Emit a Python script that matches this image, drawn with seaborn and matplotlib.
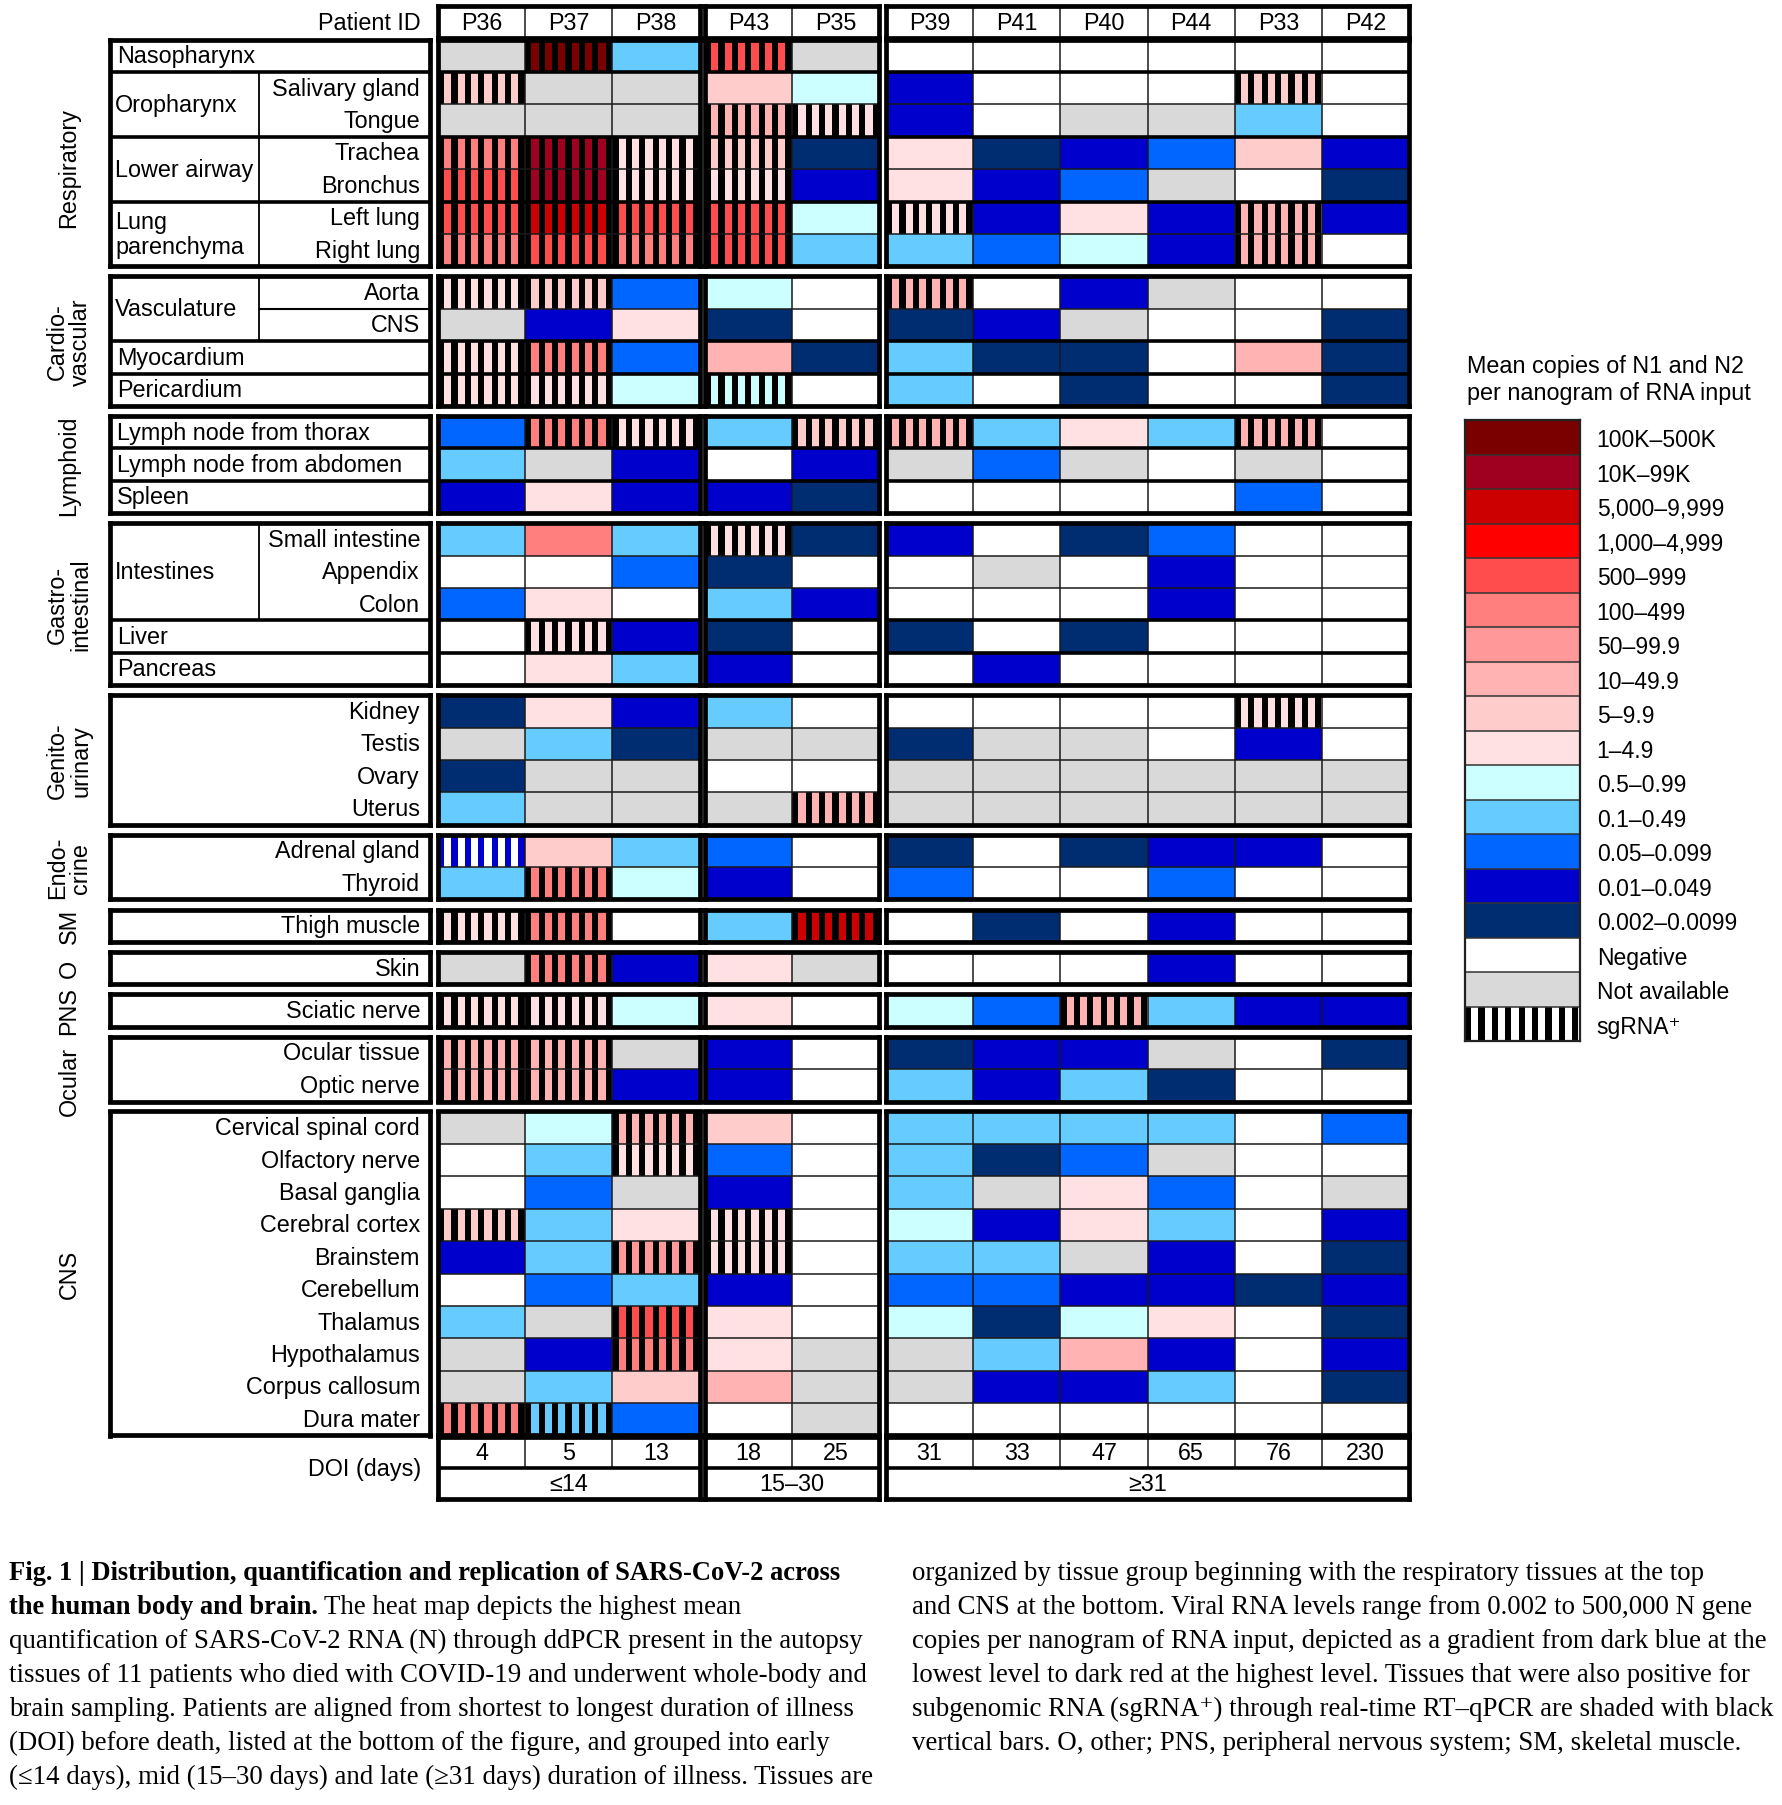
import numpy as np
import matplotlib
matplotlib.use('Agg')
import matplotlib.pyplot as plt
from matplotlib.colors import ListedColormap
from matplotlib.patches import Rectangle
import seaborn as sns

OUTPUT_PNG_FILE = 'out.png'

PATIENTS = ['P36', 'P37', 'P38', 'P43', 'P35', 'P39', 'P41', 'P40', 'P44', 'P33', 'P42']
DOI_DAYS = [4, 5, 13, 18, 25, 31, 33, 47, 65, 76, 230]
DOI_GROUPS = ['≤14', '15–30', '≥31']
GROUP_SIZES = [3, 2, 6]

LEVEL_LABELS = ['100K–500K', '10K–99K', '5,000–9,999', '1,000–4,999', '500–999',
                '100–499', '50–99.9', '10–49.9', '5–9.9', '1–4.9', '0.5–0.99',
                '0.1–0.49', '0.05–0.099', '0.01–0.049', '0.002–0.0099',
                'Negative', 'Not available']
LEVEL_COLORS = ['#7a0000', '#a00020', '#cc0000', '#ff0000', '#ff4d4d', '#ff7f7f',
                '#ff9999', '#ffb3b3', '#ffcccc', '#ffe0e3', '#ccffff', '#66ccff',
                '#0066ff', '#0000cc', '#002d72', '#ffffff', '#d9d9d9']
N, X = 15, 16  # negative, not available

# level index per tissue (rows) and patient (columns, order of PATIENTS)
RESPIRATORY = [
    [X, 0, 11, 4, X, N, N, N, N, N, N],
    [8, X, X, 8, 10, 13, N, N, N, 8, N],
    [X, X, X, 7, 9, 13, N, X, X, 11, N],
    [5, 1, 9, 8, 14, 9, 14, 13, 12, 8, 13],
    [4, 1, 9, 9, 13, 9, 13, 12, X, N, 14],
    [4, 2, 4, 4, 10, 9, 13, 9, 13, 7, 13],
    [5, 4, 5, 4, 11, 11, 12, 10, 13, 7, N],
]
CARDIOVASCULAR = [
    [9, 8, 12, 10, N, 7, N, 13, X, N, N],
    [X, 13, 9, 14, N, 14, 13, X, N, N, 14],
    [9, 5, 12, 7, 14, 11, 14, 14, N, 7, 14],
    [9, 9, 10, 10, N, 11, N, 14, N, N, 14],
]
LYMPHOID = [
    [12, 5, 9, 11, 8, 7, 11, 9, 11, 7, N],
    [11, X, 13, N, 13, X, 12, X, N, X, N],
    [13, 9, 13, 13, 14, N, N, N, N, 12, N],
]
GASTROINTESTINAL = [
    [11, 5, 11, 9, 14, 13, N, 14, 12, N, N],
    [N, N, 12, 14, N, N, X, N, 13, N, N],
    [12, 9, N, 11, 13, N, N, N, 13, N, N],
    [N, 9, 13, 14, N, 14, N, 14, N, N, N],
    [N, 9, 11, 13, N, N, 13, N, N, N, N],
]
GENITOURINARY = [
    [14, 9, 13, 11, N, N, N, N, N, 9, N],
    [X, 11, 14, X, X, 14, X, X, N, 13, N],
    [14, X, X, N, N, X, X, X, X, X, X],
    [11, X, X, X, 7, X, X, X, X, X, X],
]
ENDOCRINE = [
    [13, 8, 11, 12, N, 14, N, 14, 13, 13, N],
    [11, 5, 10, 13, N, 12, N, N, 12, N, N],
]
SKELETAL_MUSCLE = [[9, 5, N, 11, 2, N, 14, N, 13, N, N]]
OTHER = [[X, 5, 13, 9, X, N, N, N, 13, N, N]]
PERIPHERAL_NERVOUS = [[9, 9, 10, 9, N, 10, 12, 7, 11, 13, 13]]
OCULAR = [
    [7, 7, X, 13, N, 14, 13, 13, X, N, 14],
    [7, 7, 13, 13, N, 11, 13, 11, 14, N, N],
]
CENTRAL_NERVOUS = [
    [X, 10, 7, 8, N, 11, 11, 11, 11, N, 12],
    [N, 11, 9, 12, N, 11, 14, 12, X, N, N],
    [N, 12, X, 13, N, 11, X, 9, 12, N, X],
    [8, 11, 9, 9, N, 10, 13, 9, 11, N, 13],
    [13, 11, 6, 9, N, 11, 11, X, 13, N, 14],
    [N, 12, 11, 13, N, 12, 12, 13, 13, 14, 13],
    [11, X, 4, 9, N, 10, 14, 10, 9, N, 14],
    [X, 13, 5, 9, X, X, 11, 7, 13, N, 13],
    [X, 11, 8, 7, X, X, 13, 13, 11, N, 14],
    [5, 11, 12, N, X, N, N, N, N, N, N],
]

# tissues also positive for subgenomic RNA
SGRNA = {
    'Nasopharynx': ['P37', 'P43'],
    'Salivary gland': ['P36', 'P33'],
    'Tongue': ['P43', 'P35'],
    'Trachea': ['P36', 'P37', 'P38', 'P43'],
    'Bronchus': ['P36', 'P37', 'P38', 'P43'],
    'Left lung': ['P36', 'P37', 'P38', 'P43', 'P39', 'P33'],
    'Right lung': ['P36', 'P37', 'P38', 'P43', 'P33'],
    'Aorta': ['P36', 'P37', 'P39'],
    'Myocardium': ['P36', 'P37'],
    'Pericardium': ['P36', 'P37', 'P43'],
    'Lymph node from thorax': ['P37', 'P38', 'P35', 'P39', 'P33'],
    'Small intestine': ['P43'],
    'Liver': ['P37'],
    'Kidney': ['P33'],
    'Uterus': ['P35'],
    'Thyroid': ['P37'],
    'Thigh muscle': ['P36', 'P37', 'P35'],
    'Skin': ['P37'],
    'Sciatic nerve': ['P36', 'P37', 'P40'],
    'Ocular tissue': ['P36', 'P37'],
    'Optic nerve': ['P36', 'P37'],
    'Cervical spinal cord': ['P38'],
    'Olfactory nerve': ['P38'],
    'Cerebral cortex': ['P36', 'P43'],
    'Brainstem': ['P38', 'P43'],
    'Thalamus': ['P38'],
    'Hypothalamus': ['P38'],
    'Dura mater': ['P36', 'P37'],
}
SGRNA_ON_WHITE = [('Adrenal gland', 'P36')]

# (group label, values, [(subgroup label, tissues)]) ; None = one full-width row,
# '' = right aligned tissue names only
TISSUE_LAYOUT = [
    ('Respiratory', RESPIRATORY, [
        (None, ['Nasopharynx']),
        ('Oropharynx', ['Salivary gland', 'Tongue']),
        ('Lower airway', ['Trachea', 'Bronchus']),
        ('Lung\nparenchyma', ['Left lung', 'Right lung'])]),
    ('Cardio-\nvascular', CARDIOVASCULAR, [
        ('Vasculature', ['Aorta', 'CNS']),
        (None, ['Myocardium']),
        (None, ['Pericardium'])]),
    ('Lymphoid', LYMPHOID, [
        (None, ['Lymph node from thorax']),
        (None, ['Lymph node from abdomen']),
        (None, ['Spleen'])]),
    ('Gastro-\nintestinal', GASTROINTESTINAL, [
        ('Intestines', ['Small intestine', 'Appendix', 'Colon']),
        (None, ['Liver']),
        (None, ['Pancreas'])]),
    ('Genito-\nurinary', GENITOURINARY, [('', ['Kidney', 'Testis', 'Ovary', 'Uterus'])]),
    ('Endo-\ncrine', ENDOCRINE, [('', ['Adrenal gland', 'Thyroid'])]),
    ('SM', SKELETAL_MUSCLE, [('', ['Thigh muscle'])]),
    ('O', OTHER, [('', ['Skin'])]),
    ('PNS', PERIPHERAL_NERVOUS, [('', ['Sciatic nerve'])]),
    ('Ocular', OCULAR, [('', ['Ocular tissue', 'Optic nerve'])]),
    ('CNS', CENTRAL_NERVOUS, [('', ['Cervical spinal cord', 'Olfactory nerve',
                                    'Basal ganglia', 'Cerebral cortex', 'Brainstem',
                                    'Cerebellum', 'Thalamus', 'Hypothalamus',
                                    'Corpus callosum', 'Dura mater'])]),
]
LABEL_RULE_BELOW = ['Aorta']
GROUP_LABEL_SHIFT = {'Respiratory': 14, 'Ocular': 11}

CAPTION_LEFT = [
    ('Fig. 1 | Distribution, quantification and replication of SARS-CoV-2 across', ''),
    ('the human body and brain.', 'The heat map depicts the highest mean'),
    ('', 'quantification of SARS-CoV-2 RNA (N) through ddPCR present in the autopsy'),
    ('', 'tissues of 11 patients who died with COVID-19 and underwent whole-body and'),
    ('', 'brain sampling. Patients are aligned from shortest to longest duration of illness'),
    ('', '(DOI) before death, listed at the bottom of the figure, and grouped into early'),
    ('', '(≤14 days), mid (15–30 days) and late (≥31 days) duration of illness. Tissues are'),
]
CAPTION_RIGHT = [
    'organized by tissue group beginning with the respiratory tissues at the top',
    'and CNS at the bottom. Viral RNA levels range from 0.002 to 500,000 N gene',
    'copies per nanogram of RNA input, depicted as a gradient from dark blue at the',
    'lowest level to dark red at the highest level. Tissues that were also positive for',
    'subgenomic RNA (sgRNA⁺) through real-time RT–qPCR are shaded with black',
    'vertical bars. O, other; PNS, peripheral nervous system; SM, skeletal muscle.',
]

W, H = 1782, 1806
CELL_W, ROW_H, BLOCK_GAP = 87.2, 32.4, 10
COL_X0 = [438, 705, 886]
LABEL_X0, LABEL_X1, DIV_X = 110, 430, 149
BAR_PERIOD, BAR_WIDTH = 13.4, 6.2
FS = 16.8
THIN, MID, THICK = 1.1, 2.6, 3.4
LINE_C = '#1a1a1a'
SANS = ['Liberation Sans', 'DejaVu Sans']
SERIF = ['Liberation Serif', 'DejaVu Serif']

plt.rcParams['font.family'] = SANS
fig = plt.figure(figsize=(W / 100, H / 100), dpi=100)
fig.patch.set_facecolor('white')
cmap = ListedColormap(LEVEL_COLORS)


def px_axes(x0, y0, x1, y1):
    return fig.add_axes([x0 / W, 1 - y1 / H, (x1 - x0) / W, (y1 - y0) / H])


def outline(ax, lw=THICK, color='black'):
    for s in ax.spines.values():
        s.set_visible(True)
        s.set_linewidth(lw)
        s.set_color(color)
        s.set_zorder(5)


def hatch_cell(ax, c, r, unit_px, color='black', background=None):
    if background is not None:
        ax.add_patch(Rectangle((c, r), 1, 1, fc=background, ec='none', zorder=1.5))
    step, bw = BAR_PERIOD / unit_px, BAR_WIDTH / unit_px
    x = c
    while x < c + 1 - 1e-6:
        ax.add_patch(Rectangle((x, r), min(bw, c + 1 - x), 1, fc=color, ec='none', zorder=1.6))
        x += step


def fig_text(x, y, s, **kw):
    return fig.text(x / W, 1 - y / H, s, **kw)


col_starts = np.cumsum([0] + GROUP_SIZES[:-1])

# header row with patient IDs
for g, (start, size) in enumerate(zip(col_starts, GROUP_SIZES)):
    ax = px_axes(COL_X0[g], 7, COL_X0[g] + size * CELL_W, 7 + ROW_H)
    sns.heatmap(np.zeros((1, size)), cmap=ListedColormap(['white']), cbar=False,
                annot=np.array([PATIENTS[start:start + size]]), fmt='',
                annot_kws={'fontsize': FS, 'color': 'black'},
                xticklabels=False, yticklabels=False, ax=ax)
    ax.vlines(np.arange(1, size), 0, 1, colors=LINE_C, lw=THIN, zorder=3)
    outline(ax)
fig_text(421, 7 + ROW_H / 2, 'Patient ID', ha='right', va='center', fontsize=FS)

# tissue blocks
top = 40.5
for group_name, values, subgroups in TISSUE_LAYOUT:
    values = np.array(values)
    tissues = [t for _, ts in subgroups for t in ts]
    n = len(tissues)
    bottom = top + n * ROW_H
    bounds = list(np.cumsum([len(ts) for _, ts in subgroups])[:-1])
    thin_rows = [r for r in range(1, n) if r not in bounds]

    for g, (start, size) in enumerate(zip(col_starts, GROUP_SIZES)):
        ax = px_axes(COL_X0[g], top, COL_X0[g] + size * CELL_W, bottom)
        block = values[:, start:start + size]
        sns.heatmap(block, cmap=cmap, vmin=-0.5, vmax=len(LEVEL_COLORS) - 0.5,
                    cbar=False, xticklabels=False, yticklabels=False, ax=ax)
        for r, tissue in enumerate(tissues):
            for c in range(size):
                pid = PATIENTS[start + c]
                if pid in SGRNA.get(tissue, []):
                    hatch_cell(ax, c, r, CELL_W)
                if (tissue, pid) in SGRNA_ON_WHITE:
                    hatch_cell(ax, c, r, CELL_W, color=LEVEL_COLORS[block[r, c]],
                               background='white')
        ax.vlines(np.arange(1, size), 0, n, colors=LINE_C, lw=THIN, zorder=3)
        if thin_rows:
            ax.hlines(thin_rows, 0, size, colors=LINE_C, lw=THIN, zorder=3)
        if bounds:
            ax.hlines(bounds, 0, size, colors='black', lw=MID, zorder=3)
        outline(ax)

    lax = px_axes(LABEL_X0, top, LABEL_X1, bottom)
    width = LABEL_X1 - LABEL_X0
    lax.set_xlim(0, width)
    lax.set_ylim(n, 0)
    lax.set_xticks([])
    lax.set_yticks([])
    r = 0
    for sub_name, ts in subgroups:
        k = len(ts)
        if sub_name is None:
            lax.text(7, r + 0.5, ts[0], ha='left', va='center', fontsize=FS)
        else:
            if sub_name:
                lax.vlines(DIV_X, r, r + k, colors='black', lw=1.3)
                lax.text(5, r + k / 2, sub_name, ha='left', va='center',
                         fontsize=FS, linespacing=1.15)
            for i, tissue in enumerate(ts):
                lax.text(width - 10, r + i + 0.5, tissue, ha='right', va='center', fontsize=FS)
                if tissue in LABEL_RULE_BELOW:
                    lax.hlines(r + i + 1, DIV_X, width, colors='black', lw=1.5)
        r += k
        if r < n:
            lax.hlines(r, 0, width, colors='black', lw=MID)
    outline(lax)

    label_y = (top + bottom) / 2 + GROUP_LABEL_SHIFT.get(group_name, 0)
    fig_text(69, label_y, group_name, rotation=90, ha='center', va='center',
             fontsize=FS, multialignment='center', linespacing=1.02)
    last_bottom = bottom
    top = bottom + BLOCK_GAP

# duration of illness rows
doi_top = last_bottom + 2
for g, (start, size) in enumerate(zip(col_starts, GROUP_SIZES)):
    ax = px_axes(COL_X0[g], doi_top, COL_X0[g] + size * CELL_W, doi_top + 62)
    annot = np.array([[str(d) for d in DOI_DAYS[start:start + size]], [''] * size])
    sns.heatmap(np.zeros((2, size)), cmap=ListedColormap(['white']), cbar=False,
                annot=annot, fmt='', annot_kws={'fontsize': FS, 'color': 'black'},
                xticklabels=False, yticklabels=False, ax=ax)
    ax.vlines(np.arange(1, size), 0, 1, colors=LINE_C, lw=THIN, zorder=3)
    ax.hlines(1, 0, size, colors='black', lw=MID, zorder=3)
    ax.text(size / 2, 1.5, DOI_GROUPS[g], ha='center', va='center', fontsize=FS)
    outline(ax)
fig_text(421, doi_top + 31, 'DOI (days)', ha='right', va='center', fontsize=FS)

# legend
LEG_X0, LEG_X1, LEG_Y0, LEG_ROW = 1465, 1580, 421, 34.5
leg_values = np.array(list(range(len(LEVEL_COLORS))) + [N]).reshape(-1, 1)
lax = px_axes(LEG_X0, LEG_Y0, LEG_X1, LEG_Y0 + LEG_ROW * len(leg_values))
sns.heatmap(leg_values, cmap=cmap, vmin=-0.5, vmax=len(LEVEL_COLORS) - 0.5, cbar=False,
            xticklabels=False, yticklabels=LEVEL_LABELS + ['sgRNA⁺'], ax=lax)
hatch_cell(lax, 0, len(leg_values) - 1, LEG_X1 - LEG_X0)
lax.hlines(np.arange(1, len(leg_values)), 0, 1, colors='#333333', lw=1.1, zorder=3)
lax.yaxis.tick_right()
lax.tick_params(axis='y', length=0, pad=12, labelsize=16.5, labelrotation=0)
outline(lax, lw=1.6, color='#222222')
fig_text(1467, 355, 'Mean copies of N1 and N2\nper nanogram of RNA input', ha='left',
         va='top', fontsize=16.8, linespacing=1.25)

# caption
renderer = fig.canvas.get_renderer()
for i, (bold, regular) in enumerate(CAPTION_LEFT):
    y = 1580 + 34 * i
    x = 9
    if bold:
        t = fig_text(x, y, bold, ha='left', va='baseline', fontsize=19.1,
                     fontweight='bold', family=SERIF)
        x = t.get_window_extent(renderer).x1 + 6
    if regular:
        fig_text(x, y, regular, ha='left', va='baseline', fontsize=19.4, family=SERIF)
for i, line in enumerate(CAPTION_RIGHT):
    fig_text(912, 1580 + 34 * i, line, ha='left', va='baseline', fontsize=19.4, family=SERIF)

fig.savefig(OUTPUT_PNG_FILE, dpi=100, facecolor='white')
print(f"Graph saved successfully to '{OUTPUT_PNG_FILE}'")
